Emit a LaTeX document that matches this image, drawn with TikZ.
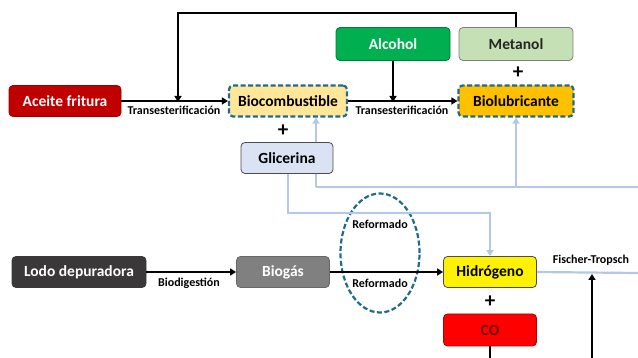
\documentclass[tikz,border=0pt]{standalone}
\usepackage{fontspec}
\setmainfont{Carlito}
\usetikzlibrary{arrows.meta,shapes.geometric}
\definecolor{dashblue}{HTML}{1F6A8F}
\definecolor{lblue}{HTML}{B4C7E7}
\definecolor{aceite}{HTML}{C00000}
\definecolor{biocomb}{HTML}{FFE699}
\definecolor{biolub}{HTML}{FFC000}
\definecolor{alcohol}{HTML}{00B050}
\definecolor{metanol}{HTML}{C5E0B4}
\definecolor{glicer}{HTML}{DAE3F3}
\definecolor{lodo}{HTML}{3A3838}
\definecolor{biogas}{HTML}{808080}
\definecolor{cotext}{HTML}{6A0000}
\tikzset{
  box/.style={rounded corners=4pt, minimum height=31pt, inner sep=0pt, font=\fontsize{15.5}{17}\selectfont\bfseries, line width=0.8pt},
  dbox/.style={box, draw=dashblue, dashed, dash pattern=on 5pt off 2.5pt, line width=2.2pt},
  lab/.style={font=\fontsize{12}{13}\selectfont\bfseries, inner sep=0pt},
  plus/.style={font=\fontsize{21}{21}\selectfont\bfseries, inner sep=0pt},
  blk/.style={line width=2.2pt, black},
  blkarr/.style={blk, -{Triangle[length=6pt,width=7pt]}},
  lb/.style={line width=2.2pt, lblue},
  lbarr/.style={lb, -{Triangle[length=6pt,width=7pt]}}
}
\begin{document}
\begin{tikzpicture}[x=1pt,y=-1pt]
\useasboundingbox (0,0) rectangle (638,358);
\coordinate (re1) at (638,187);
\coordinate (re2) at (638,273);
\coordinate (fb) at (592,358);
\coordinate (cob) at (490,358);
\coordinate (k1) at (316,187);
\coordinate (k2) at (516,187);
\coordinate (g1) at (288,213);
\coordinate (g2) at (490,213);
\coordinate (t1) at (516,13);
\coordinate (t2) at (178,13);
\coordinate (t3) at (178,101);
\coordinate (a3) at (393,101);
\coordinate (ft) at (592,274);

\node[box, fill=aceite, draw=aceite!80!black, text=white, minimum width=112pt] (ace) at (65,101) {Aceite fritura};
\node[dbox, fill=biocomb, minimum width=118pt] (bioc) at (288,101) {Biocombustible};
\node[box, fill=alcohol, draw=alcohol!70!black, text=white, minimum width=114pt, minimum height=33pt] (alc) at (393,44) {Alcohol};
\node[box, fill=metanol, draw=gray, text=black!85, minimum width=114pt, minimum height=33pt] (met) at (516,44) {Metanol};
\node[dbox, fill=biolub, minimum width=115pt] (bl) at (516,101) {Biolubricante};
\node[box, fill=yellow, draw=black!70, minimum width=93pt] (hid) at (490,272) {Hidrógeno};
\node[box, fill=lodo, draw=lodo, text=white, minimum width=134pt] (lodo) at (79,272) {Lodo depuradora};
\node[box, fill=biogas, draw=biogas!80!black, text=white, minimum width=93pt] (bg) at (283,272) {Biogás};
\node[box, fill=red, draw=red!70!black, text=cotext, minimum width=93pt, minimum height=32pt] (co) at (490,330) {CO};
\node[draw=dashblue, dashed, dash pattern=on 5pt off 2.5pt, line width=2.2pt, ellipse, minimum width=79pt, minimum height=119pt, inner sep=0pt] (ell) at (380,253) {};

% light blue connectors
\draw[lb] (re1) -- (k1);
\draw[lbarr] (k1) -- (k1 |- bioc.south);
\draw[lbarr] (k2) -- (bl.south);
\draw[lbarr] (288,174) -- (g1) -- (g2) -- (hid.north);
\draw[lb] (hid.east) -- (re2);
% Glicerina drawn over the light blue line
\node[box, fill=glicer, draw=black!70, minimum width=92pt] (gli) at (287,158) {Glicerina};

% black connectors
\draw[blkarr] (ace.east) -- (bioc.west);
\draw[blkarr] (met.north -| t1) -- (t1) -- (t2) -- ([yshift=-1pt]t3);
\draw[blkarr] (bioc.east) -- (bl.west);
\draw[blkarr] (alc.south) -- ([yshift=-1pt]a3);
\draw[blkarr] (lodo.east) -- (bg.west);
\draw[blkarr] (bg.east) -- (hid.west);
\draw[blk] (co.south) -- (cob);
\draw[blkarr] (fb) -- (ft);

% labels
\node[lab] (l1) at (174,110) {Transesterificación};
\node[lab] (l2) at (402,110) {Transesterificación};
\node[lab] (l3) at (189,283) {Biodigestión};
\node[lab] (l4) at (380,224) {Reformado};
\node[lab] (l5) at (380,283) {Reformado};
\node[lab] (l6) at (591,260) {Fischer-Tropsch};
\node[plus] (p1) at (283,131) {+};
\node[plus] (p2) at (518,73) {+};
\node[plus] (p3) at (490,302) {+};
\end{tikzpicture}
\end{document}
